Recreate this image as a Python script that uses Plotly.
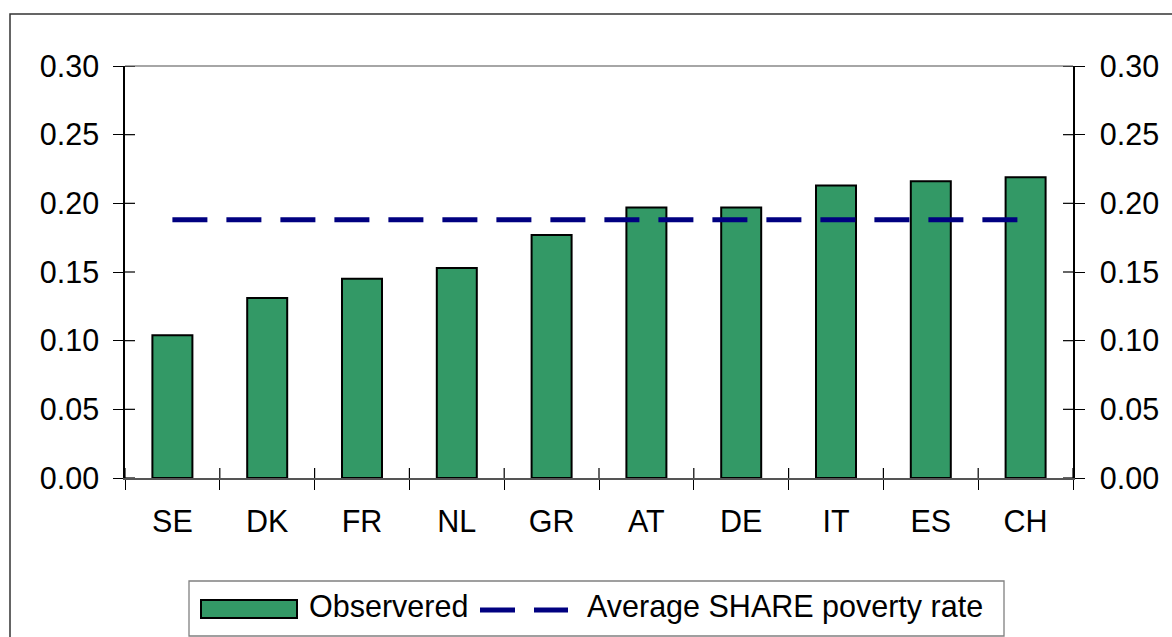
import plotly.graph_objects as go

countries = ["SE", "DK", "FR", "NL", "GR", "AT", "DE", "IT", "ES", "CH"]
observed = [0.104, 0.131, 0.145, 0.153, 0.177, 0.197, 0.197, 0.213, 0.216, 0.219]
average_rate = 0.188
avg_values = [average_rate] * len(countries)
y_ticks = [0.00, 0.05, 0.10, 0.15, 0.20, 0.25, 0.30]

W, H = 1172, 637
L, R, T, B = 125, 1073, 66, 478  # plot area in pixels
FONT = "Liberation Sans, Arial, sans-serif"
FS = 30.5
BAR_COLOR = "#339966"
LINE_COLOR = "#000080"
TICKLEN = 10


def px(xp):
    return (xp - L) / (R - L)


def py(yp):
    return (B - yp) / (B - T)


fig = go.Figure()
fig.add_trace(go.Bar(x=countries, y=observed, name="Observered",
                     marker=dict(color=BAR_COLOR, line=dict(color="black", width=2)),
                     showlegend=False, hoverinfo="x+y"))
fig.add_trace(go.Scatter(x=countries, y=avg_values, mode="lines", name="Average SHARE poverty rate",
                         line=dict(color=LINE_COLOR, width=5, dash="35px,19px"),
                         showlegend=False))
fig.add_trace(go.Scatter(x=[], y=[], xaxis="x", yaxis="y2", showlegend=False))

tickfont = dict(family=FONT, size=FS, color="black")
yrange = [0, 0.3]
xrange = [-0.5, len(countries) - 0.5]

fig.update_layout(
    width=W, height=H,
    margin=dict(l=L, r=W - R, t=T, b=H - B, pad=0),
    paper_bgcolor="white", plot_bgcolor="white",
    bargap=0.578,
    showlegend=False,
    font=dict(family=FONT, size=FS, color="black"),
    xaxis=dict(type="category", categoryorder="array", categoryarray=countries,
               range=xrange, showline=True, linecolor="#555555", linewidth=1.5,
               ticks="outside", ticklen=TICKLEN, tickwidth=1.2, tickcolor="black",
               tickson="boundaries", showgrid=False, zeroline=False,
               tickfont=tickfont, ticklabelstandoff=16),
    yaxis=dict(range=yrange, tickvals=y_ticks, tickformat=".2f", showline=True,
               linecolor="black", linewidth=1.5, ticks="outside", ticklen=TICKLEN,
               tickwidth=1.2, tickcolor="black", showgrid=False, zeroline=False,
               tickfont=tickfont, ticklabelstandoff=8),
    yaxis2=dict(range=yrange, tickvals=y_ticks, tickformat=".2f", overlaying="y",
                side="right", anchor="x", showline=True, linecolor="black",
                linewidth=1.5, ticks="outside", ticklen=TICKLEN, tickwidth=1.2,
                tickcolor="black", showgrid=False, zeroline=False,
                tickfont=tickfont, ticklabelstandoff=9),
)

shapes = [
    # outer chart border
    dict(type="rect", xref="paper", yref="paper", x0=px(10), x1=px(1230),
         y0=py(700), y1=py(14), line=dict(color="#333333", width=1.5),
         fillcolor="rgba(0,0,0,0)", layer="below"),
    # plot area top border
    dict(type="line", xref="paper", yref="paper", x0=0, x1=1, y0=1, y1=1,
         line=dict(color="#888888", width=1.5), layer="below"),
    # legend box
    dict(type="rect", xref="paper", yref="paper", x0=px(189), x1=px(1004),
         y0=py(636), y1=py(581), line=dict(color="#808080", width=1.3),
         fillcolor="white"),
    # legend bar symbol
    dict(type="rect", xref="paper", yref="paper", x0=px(201), x1=px(297),
         y0=py(618), y1=py(600), line=dict(color="black", width=2),
         fillcolor=BAR_COLOR),
    # legend dashed line symbol
    dict(type="line", xref="paper", yref="paper", x0=px(480), x1=px(568),
         y0=py(610), y1=py(610), line=dict(color=LINE_COLOR, width=5, dash="35px,19px")),
]

# inner halves of the crossing tick marks on both value axes
inner_x = TICKLEN / (R - L)
inner_y = TICKLEN / (B - T)
for t in y_ticks:
    shapes.append(dict(type="line", xref="paper", yref="y", x0=0, x1=inner_x,
                       y0=t, y1=t, line=dict(color="black", width=1.2)))
    shapes.append(dict(type="line", xref="paper", yref="y", x0=1 - inner_x, x1=1,
                       y0=t, y1=t, line=dict(color="black", width=1.2)))
# inner halves of the category boundary ticks
for i in range(len(countries) + 1):
    b = i - 0.5
    shapes.append(dict(type="line", xref="x", yref="paper", x0=b, x1=b,
                       y0=0, y1=inner_y, line=dict(color="black", width=1.2)))

fig.update_layout(shapes=shapes)

fig.add_annotation(x=px(307), y=py(606), xref="paper", yref="paper",
                   text="Observered", showarrow=False, xanchor="left",
                   yanchor="middle", font=dict(family=FONT, size=FS, color="black"))
fig.add_annotation(x=px(585), y=py(606), xref="paper", yref="paper",
                   text="Average SHARE poverty rate", showarrow=False, xanchor="left",
                   yanchor="middle", font=dict(family=FONT, size=FS, color="black"))

fig.write_html("out.html", config=dict(displayModeBar=False),
               post_script="document.body.style.margin='0';document.body.style.overflow='hidden';")
